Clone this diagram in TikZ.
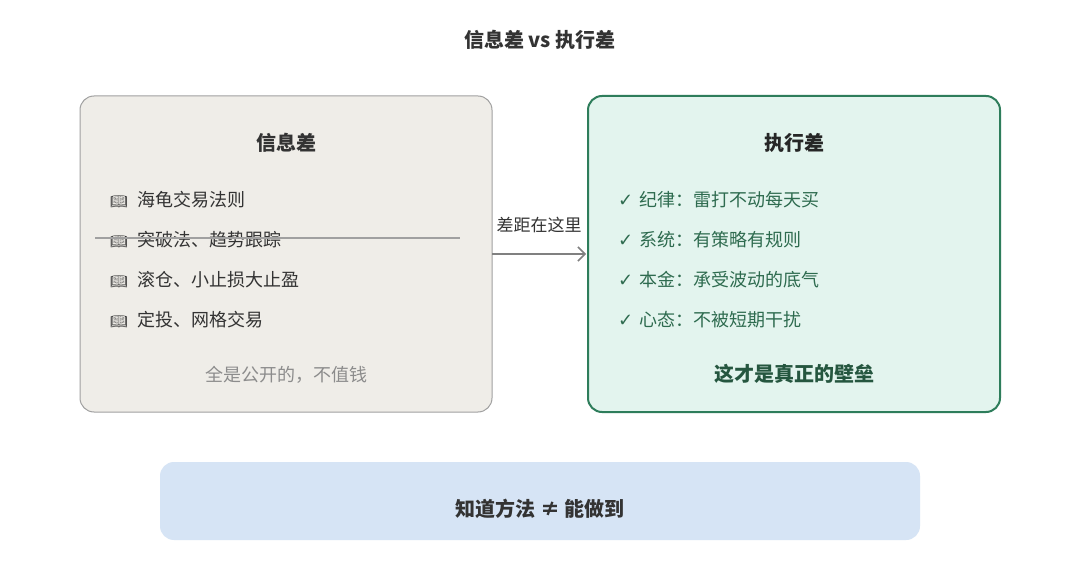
\documentclass[tikz,border=0pt]{standalone}
\usepackage{fontspec}
\usetikzlibrary{arrows.meta}
\setmainfont{Noto Sans CJK SC}
\newfontfamily\emo{Noto Emoji}
\newfontfamily\dv{DejaVu Sans}
\definecolor{lfill}{HTML}{EFEDE8}
\definecolor{lline}{HTML}{A0A0A0}
\definecolor{rfill}{HTML}{E3F4EE}
\definecolor{rline}{HTML}{2E7D5B}
\definecolor{gtext}{HTML}{2E6B4F}
\definecolor{bfill}{HTML}{D6E4F5}
\definecolor{txt}{HTML}{333333}
\begin{document}
\begin{tikzpicture}[x=1pt,y=-1pt,
  box/.style={rounded corners=14pt},
  item/.style={anchor=west,font=\fontsize{18}{20}\selectfont,text=txt,inner sep=0},
  gitem/.style={anchor=west,font=\fontsize{18}{20}\selectfont,text=gtext,inner sep=0},
  head/.style={font=\fontsize{20}{22}\selectfont\bfseries,text=txt}]
\useasboundingbox (0,0) rectangle (1080,572);
\fill[white] (0,0) rectangle (1080,572);
\node[head] (title) at (540,40) {信息差 vs 执行差};
\draw[box,fill=lfill,draw=lline,line width=1pt] (80,96) rectangle (492,412);
\draw[box,fill=rfill,draw=rline,line width=2pt] (588,96) rectangle (1000,412);
\fill[box,bfill] (160,462) rectangle (920,540);
\coordinate (L) at (492,254);
\coordinate (R) at (586,254);
\node[head] (lh) at (286,143) {信息差};
\node[head,text=black!85] (rh) at (794,143) {执行差};
\foreach \t [count=\i] in {海龟交易法则,突破法、趋势跟踪,滚仓、小止损大止盈,定投、网格交易}{
  \node[item] (i\i) at (110,160+40*\i) {{\emo\fontsize{14}{14}\selectfont 📖}\hspace{10pt}\t};
}
\draw[lline,line width=1.5pt] (95,238) -- (460,238);
\foreach \t [count=\i] in {纪律：雷打不动每天买,系统：有策略有规则,本金：承受波动的底气,心态：不被短期干扰}{
  \node[gitem] (g\i) at (618,160+40*\i) {{\dv ✓}\hspace{6pt}\t};
}
\node[font=\fontsize{18}{20}\selectfont,text=black!45] (pub) at (286,375) {全是公开的，不值钱};
\node[font=\fontsize{20}{22}\selectfont\bfseries,text=gtext!80!black] (wall) at (794,374) {这才是真正的壁垒};
\draw[lline!80!black,line width=1.5pt,-{Straight Barb[length=7pt]}] (L) -- node[above=20pt,font=\fontsize{17}{19}\selectfont,text=txt,inner sep=0]{差距在这里} (R);
\node[font=\fontsize{20}{22}\selectfont\bfseries,text=txt] (bot) at (540,509) {知道方法 ≠ 能做到};
\end{tikzpicture}
\end{document}
